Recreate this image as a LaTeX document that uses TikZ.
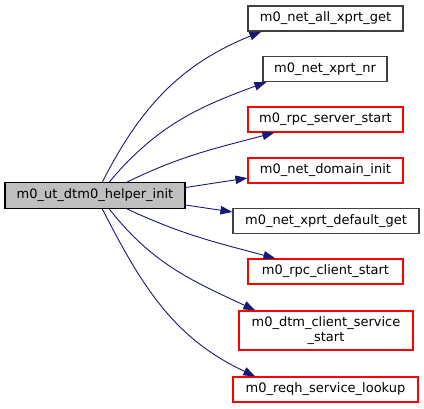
\documentclass[tikz,border=0pt]{standalone}
\usepackage{fontspec}
\setmainfont{DejaVu Sans}
\usetikzlibrary{arrows.meta}
\definecolor{edgeblue}{HTML}{191970}
\definecolor{boxgray}{HTML}{BFBFBF}
\definecolor{bordergray}{HTML}{404040}
\tikzset{
  fbox/.style={draw=bordergray, line width=1.2pt, fill=white, inner sep=0pt, minimum height=25pt,
    font=\fontsize{13}{15}\selectfont, align=center},
  redbox/.style={fbox, draw=red},
  mainbox/.style={fbox, fill=boxgray, draw=black},
  edge/.style={draw=edgeblue, line width=0.9pt, -{Triangle[length=12pt,width=8.5pt]}},
}
\begin{document}
\begin{tikzpicture}[x=1pt,y=1pt]
\useasboundingbox (0,0) rectangle (424,408);
\node[mainbox, minimum width=180pt, minimum height=26pt] (main) at (95,212.5) {m0\_ut\_dtm0\_helper\_init};
\node[fbox, minimum width=155pt] (n1) at (325.5,389.5) {m0\_net\_all\_xprt\_get};
\node[fbox, minimum width=124pt] (n2) at (325,339) {m0\_net\_xprt\_nr};
\node[redbox, minimum width=155pt] (n3) at (325.5,288.5) {m0\_rpc\_server\_start};
\node[redbox, minimum width=155pt] (n4) at (325.5,237.5) {m0\_net\_domain\_init};
\node[fbox, minimum width=186pt] (n5) at (326,187) {m0\_net\_xprt\_default\_get};
\node[redbox, minimum width=155pt] (n6) at (325.5,136.5) {m0\_rpc\_client\_start};
\node[redbox, minimum width=174pt, minimum height=39pt] (n7) at (326,77.5) {m0\_dtm\_client\_service\\\_start};
\node[redbox, minimum width=185pt] (n8) at (325.5,18.5) {m0\_reqh\_service\_lookup};

\draw[edge] ([xshift=98pt]main.north west) to[out=63,in=-158] ([xshift=14pt]n1.south west);
\draw[edge] ([xshift=105pt]main.north west) to[out=50,in=-160] ([xshift=4pt]n2.south west);
\draw[edge] ([xshift=123pt]main.north west) to[out=26,in=-165] ([xshift=27pt]n3.south west);
\draw[edge] ([yshift=8pt]main.east) -- ([yshift=-7.5pt]n4.west);
\draw[edge] ([yshift=-9.5pt]main.east) -- ([yshift=9pt]n5.west);
\draw[edge] ([xshift=123pt]main.south west) to[out=-25,in=165] ([xshift=28pt]n6.north west);
\draw[edge] ([xshift=105pt]main.south west) to[out=-52,in=155] ([xshift=17pt]n7.north west);
\draw[edge] ([xshift=98pt]main.south west) to[out=-63,in=155] ([xshift=23pt]n8.north west);
\end{tikzpicture}
\end{document}
